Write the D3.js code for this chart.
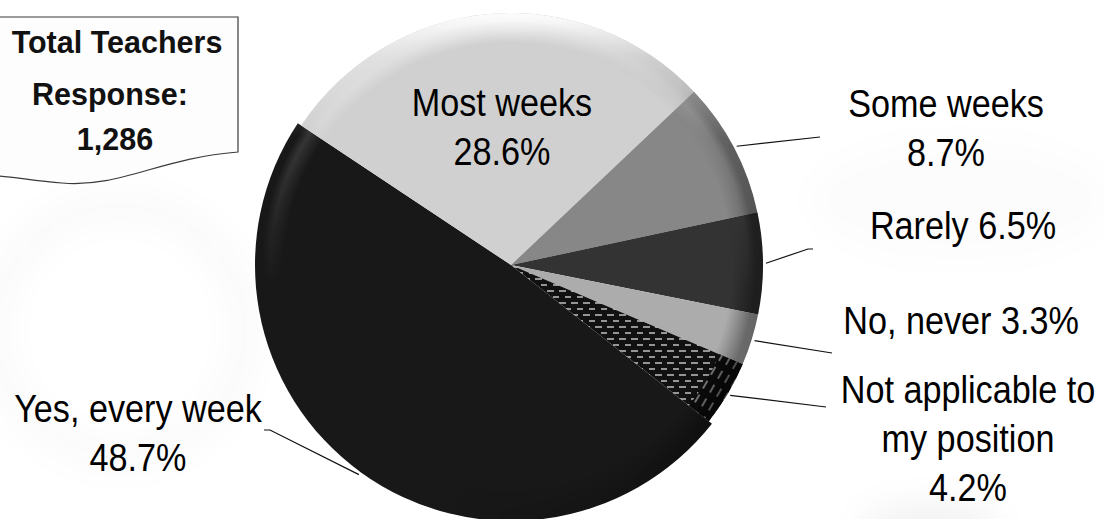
<!DOCTYPE html>
<html>
<head>
<meta charset="utf-8">
<script src="https://cdn.jsdelivr.net/npm/d3@7"></script>
<style>
  html, body { margin: 0; padding: 0; background: #ffffff; }
  svg { display: block; }
</style>
</head>
<body>
<svg id="chart" width="1104" height="519"></svg>
<script>
// Survey answers and their shares (percent of all teacher responses)
const categories = ["Yes, every week", "Most weeks", "Some weeks", "Rarely", "No, never", "Not applicable to my position"];
const shares = [48.7, 28.6, 8.7, 6.5, 3.3, 4.2];
// Label text split into lines; the percentage is appended from `shares`
const labelNames = [["Yes, every week"], ["Most weeks"], ["Some weeks"], ["Rarely"], ["No, never"], ["Not applicable to", "my position"]];
const totalResponses = 1286;
const totalTitle = ["Total Teachers", "Response:"];

// Slice look
const sliceFills = ["#181818", "#d0d0d0", "#878787", "#333333", "#acacac", "url(#dashFill)"];

// Geometry
const cx = 511, cy = 265, R = 252, R_BIG = 256;
const startDeg = 128.3;

// Label anchors: x centre, first baseline, whether the % sits on the same line,
// and the points the leader runs through before reaching the slice rim
const labelLayout = [
  { x: 138, y: 422, inline: false, leader: [[264, 430], [270, 430]] },
  { x: 502, y: 116, inline: false, leader: null },
  { x: 946, y: 117, inline: false, leader: [[820, 137]] },
  { x: 963, y: 239, inline: true,  leader: [[813, 249], [808, 249]] },
  { x: 961, y: 334, inline: true,  leader: [[832, 353]] },
  { x: 968, y: 403, inline: false, leader: [[826, 407]] }
];
const lineGap = 49;
const labelFont = 38, labelStretch = 0.9;

const svg = d3.select("#chart");
const defs = svg.append("defs");

// Soft background shading
const bgBlur = defs.append("filter").attr("id", "bgBlur").attr("x", "-50%").attr("y", "-50%").attr("width", "200%").attr("height", "200%");
bgBlur.append("feGaussianBlur").attr("stdDeviation", 16);
const bg = svg.append("g").attr("filter", "url(#bgBlur)");
bg.append("circle").attr("cx", 120).attr("cy", 330).attr("r", 125)
  .attr("fill", "none").attr("stroke", "rgba(0,0,0,0.022)").attr("stroke-width", 26);
bg.append("ellipse").attr("cx", 930).attr("cy", 528).attr("rx", 70).attr("ry", 25)
  .attr("fill", "rgba(0,0,0,0.05)");
bg.append("ellipse").attr("cx", 960).attr("cy", 200).attr("rx", 150).attr("ry", 60)
  .attr("fill", "rgba(0,0,0,0.01)");

// Dashed fill for the "not applicable" slice
const dash = defs.append("pattern").attr("id", "dashFill")
  .attr("patternUnits", "userSpaceOnUse").attr("width", 12).attr("height", 12);
dash.append("rect").attr("width", 12).attr("height", 12).attr("fill", "#111");
dash.append("rect").attr("x", 0).attr("y", 1).attr("width", 7).attr("height", 2).attr("fill", "#959595");
dash.append("rect").attr("x", 6).attr("y", 7).attr("width", 7).attr("height", 2).attr("fill", "#959595");

const dashRim = defs.append("pattern").attr("id", "dashRim")
  .attr("patternUnits", "userSpaceOnUse").attr("width", 8).attr("height", 16)
  .attr("patternTransform", "rotate(30)");
dashRim.append("rect").attr("width", 8).attr("height", 16).attr("fill", "#0c0c0c");
dashRim.append("rect").attr("x", 3).attr("y", 2).attr("width", 2).attr("height", 9).attr("fill", "#7a7a7a");

// Rounded bevel along the rim: a highlight band, shading on the right, a glint at the top
function addStops(g, stops) {
  stops.forEach(([o, c, a]) => g.append("stop").attr("offset", o).attr("stop-color", c).attr("stop-opacity", a));
}
function bevelDefs(r) {
  const band = defs.append("radialGradient").attr("id", "band" + r)
    .attr("gradientUnits", "userSpaceOnUse").attr("cx", 0).attr("cy", 0).attr("r", r);
  addStops(band, [[0, "#fff", 0], [0.88, "#fff", 0], [0.94, "#fff", 0.17], [0.975, "#fff", 0], [1, "#fff", 0]]);

  const vFade = defs.append("linearGradient").attr("id", "vFade" + r)
    .attr("gradientUnits", "userSpaceOnUse").attr("x1", 0).attr("y1", -r).attr("x2", 0).attr("y2", r);
  addStops(vFade, [[0, "#fff", 1], [0.3, "#fff", 0.7], [0.55, "#fff", 0], [1, "#fff", 0]]);
  defs.append("mask").attr("id", "vMask" + r).attr("maskUnits", "userSpaceOnUse")
    .attr("x", -r - 5).attr("y", -r - 5).attr("width", 2 * r + 10).attr("height", 2 * r + 10)
    .append("rect").attr("x", -r - 5).attr("y", -r - 5).attr("width", 2 * r + 10).attr("height", 2 * r + 10)
    .attr("fill", `url(#vFade${r})`);

  const edge = defs.append("radialGradient").attr("id", "edge" + r)
    .attr("gradientUnits", "userSpaceOnUse").attr("cx", 0).attr("cy", 0).attr("r", r);
  addStops(edge, [[0, "#000", 1], [0.88, "#000", 1], [0.97, "#fff", 1], [1, "#fff", 1]]);
  defs.append("mask").attr("id", "edgeMask" + r).attr("maskUnits", "userSpaceOnUse")
    .attr("x", -r - 5).attr("y", -r - 5).attr("width", 2 * r + 10).attr("height", 2 * r + 10)
    .append("circle").attr("r", r).attr("fill", `url(#edge${r})`);

  const shade = defs.append("linearGradient").attr("id", "shade" + r)
    .attr("gradientUnits", "userSpaceOnUse").attr("x1", -0.1 * r).attr("y1", 0).attr("x2", r).attr("y2", 0.15 * r);
  addStops(shade, [[0, "#000", 0], [0.6, "#000", 0.15], [1, "#000", 0.42]]);

  const glint = defs.append("linearGradient").attr("id", "glint" + r)
    .attr("gradientUnits", "userSpaceOnUse").attr("x1", 0).attr("y1", -r).attr("x2", 0).attr("y2", -0.5 * r);
  addStops(glint, [[0, "#fff", 0.95], [0.35, "#fff", 0.35], [1, "#fff", 0]]);
}
[R, R_BIG].forEach(bevelDefs);

const data = categories.map((c, i) => ({ name: c, value: shares[i], i }));
const toRad = d => d * Math.PI / 180;
const pie = d3.pie().sort(null).value(d => d.value)
  .startAngle(toRad(startDeg)).endAngle(toRad(startDeg) + 2 * Math.PI);
const arcs = pie(data);
const radiusOf = d => d.data.i === 0 ? R_BIG : R;

const gPie = svg.append("g").attr("transform", `translate(${cx},${cy})`);
const arcGen = d => d3.arc().innerRadius(0).outerRadius(radiusOf(d))(d);

gPie.selectAll("path.slice").data(arcs).join("path")
  .attr("class", "slice")
  .attr("d", arcGen)
  .attr("fill", d => sliceFills[d.data.i]);

// Rim of the dashed slice uses dashes running along the edge
gPie.append("path")
  .attr("d", d3.arc().innerRadius(R * 0.9).outerRadius(R)(arcs[5]))
  .attr("fill", "url(#dashRim)");

gPie.selectAll("path.band").data(arcs).join("path")
  .attr("class", "band").attr("d", arcGen)
  .attr("mask", d => `url(#vMask${radiusOf(d)})`)
  .attr("fill", d => `url(#band${radiusOf(d)})`);

gPie.selectAll("path.shade").data(arcs).join("path")
  .attr("class", "shade").attr("d", arcGen)
  .attr("mask", d => `url(#edgeMask${radiusOf(d)})`)
  .attr("fill", d => `url(#shade${radiusOf(d)})`);

gPie.selectAll("path.glint").data(arcs).join("path")
  .attr("class", "glint").attr("d", arcGen)
  .attr("mask", d => `url(#edgeMask${radiusOf(d)})`)
  .attr("fill", d => `url(#glint${radiusOf(d)})`);

// Leader lines from the labels to the middle of each slice's rim
const rimPoint = d => {
  const a = (d.startAngle + d.endAngle) / 2, r = radiusOf(d) + 3;
  return [cx + r * Math.sin(a), cy - r * Math.cos(a)];
};
svg.append("g").selectAll("polyline").data(arcs.filter(d => labelLayout[d.data.i].leader)).join("polyline")
  .attr("points", d => labelLayout[d.data.i].leader.concat([rimPoint(d)]).map(p => p.join(",")).join(" "))
  .attr("fill", "none").attr("stroke", "#111").attr("stroke-width", 1.2);

// Category labels
const fmtPct = v => v.toFixed(1) + "%";
const gLab = svg.append("g")
  .attr("font-family", "'Liberation Sans', Arial, sans-serif")
  .attr("font-size", labelFont).attr("fill", "#000").attr("text-anchor", "middle");
arcs.forEach(d => {
  const L = labelLayout[d.data.i];
  const names = labelNames[d.data.i];
  const lines = L.inline
    ? names.slice(0, -1).concat([names[names.length - 1] + " " + fmtPct(d.data.value)])
    : names.concat([fmtPct(d.data.value)]);
  const t = gLab.append("text").attr("transform", `translate(${L.x},0) scale(${labelStretch},1)`);
  lines.forEach((s, k) => t.append("tspan").attr("x", 0).attr("y", L.y + k * lineGap).text(s));
});

// Total responses call-out (document shape with wavy bottom)
const box = svg.append("g");
box.append("path")
  .attr("d", "M-2,17 H238 V152 C160,158 120,188 62,183 C35,181 15,177 -2,176 Z")
  .attr("fill", "#fdfdfd").attr("stroke", "#3a3a3a").attr("stroke-width", 1.2);
const boxLines = totalTitle.concat([d3.format(",")(totalResponses)]);
const boxX = [117, 110, 115], boxY = [53, 105, 150];
boxLines.forEach((s, k) => box.append("text")
  .attr("x", boxX[k]).attr("y", boxY[k])
  .attr("font-family", "'Liberation Sans', Arial, sans-serif")
  .attr("font-weight", "bold").attr("font-size", 30.5).attr("fill", "#111").attr("text-anchor", "middle")
  .text(s));
</script>
</body>
</html>
